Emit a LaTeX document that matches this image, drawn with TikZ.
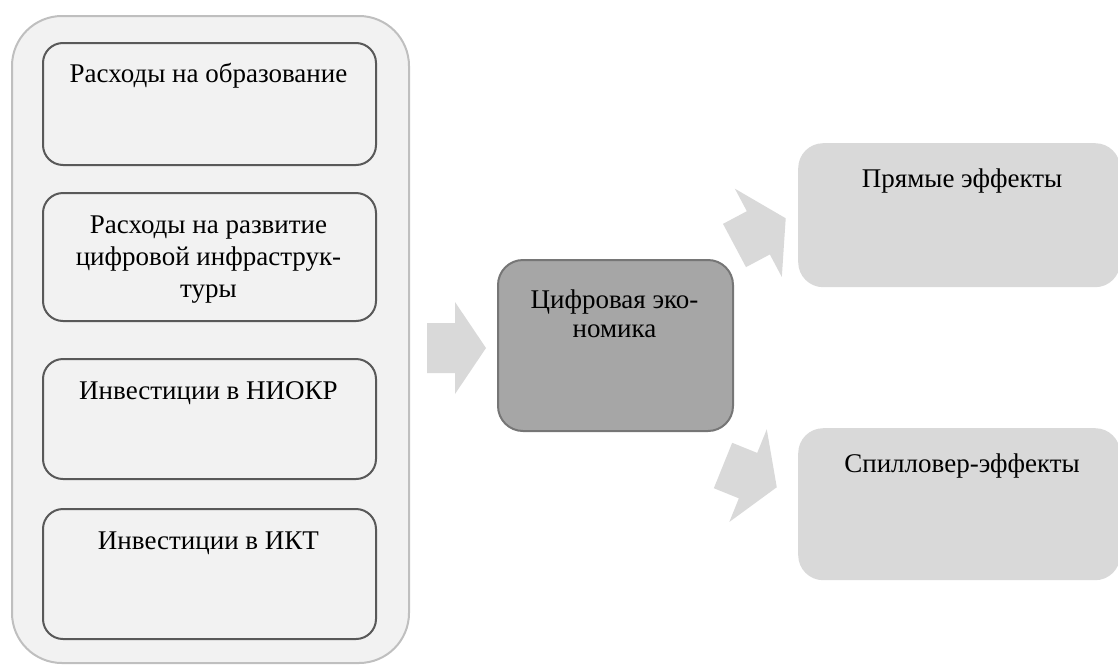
\documentclass[tikz,border=0pt]{standalone}
\usepackage{fontspec}
\setmainfont{Liberation Serif}
\usetikzlibrary{calc}
\definecolor{outerfill}{HTML}{F2F2F2}
\definecolor{outerline}{HTML}{BFBFBF}
\definecolor{innerline}{HTML}{595959}
\definecolor{centerfill}{HTML}{A6A6A6}
\definecolor{centerline}{HTML}{767676}
\definecolor{lightfill}{HTML}{D9D9D9}
\tikzset{
  outerbox/.style={draw=outerline, fill=outerfill, line width=2pt, rounded corners=50pt, inner sep=0pt},
  inbox/.style={draw=innerline, fill=outerfill, line width=2pt, rounded corners=20pt, inner sep=0pt},
  centerbox/.style={draw=centerline, fill=centerfill, line width=2pt, rounded corners=25pt, inner sep=0pt},
  effbox/.style={fill=lightfill, draw=none, rounded corners=25pt, inner sep=0pt},
  txt/.style={anchor=base, inner sep=0pt, align=center, font=\fontsize{27}{32}\selectfont},
  mtxt/.style={anchor=north, inner sep=0pt, align=center},
  blockarrow/.style={fill=lightfill, draw=none},
}
\begin{document}
\begin{tikzpicture}[x=1pt,y=-1pt]
\useasboundingbox (0,0) rectangle (1118,664);
% outer container
\node[outerbox, anchor=north west, minimum width=397pt, minimum height=647pt] (outer) at (11,15) {};
% inner boxes
\node[inbox, anchor=north west, minimum width=333pt, minimum height=122pt] (b1) at (42,42) {};
\node[inbox, anchor=north west, minimum width=333pt, minimum height=128pt] (b2) at (42,192) {};
\node[inbox, anchor=north west, minimum width=333pt, minimum height=120pt] (b3) at (42,358) {};
\node[inbox, anchor=north west, minimum width=333pt, minimum height=130pt] (b4) at (42,508) {};
\node[txt] (t1) at (208.5,82) {Расходы на образование};
\node[mtxt, font=\fontsize{27}{32}\selectfont] (t2) at (208.5,216) {Расходы на развитие\\цифровой инфраструк-\\туры};
\node[txt] (t3) at (208.5,399) {Инвестиции в НИОКР};
\node[txt] (t4) at (208.5,549) {Инвестиции в ИКТ};
% center box
\node[centerbox, anchor=north west, minimum width=235pt, minimum height=171pt] (c) at (497,259) {};
\node[mtxt, font=\fontsize{27}{29}\selectfont] (tc) at (614.5,290) {Цифровая эко-\\номика};
% effect boxes
\node[effbox, anchor=north west, minimum width=322pt, minimum height=144pt] (e1) at (798,143) {};
\node[effbox, anchor=north west, minimum width=322pt, minimum height=152pt] (e2) at (798,428) {};
\node[txt] (te1) at (962,187) {Прямые эффекты};
\node[txt] (te2) at (962,472) {Спилловер-эффекты};
% block arrows
\fill[blockarrow, shift={(427,348)}] (0,-25) -- (28,-25) -- (28,-46) -- (59,0) -- (28,46) -- (28,25) -- (0,25) -- cycle;
\fill[blockarrow, shift={(734.5,245.5)}, rotate=28] (0,-24.5) -- (27,-24.5) -- (27,-50) -- (58,0) -- (27,50) -- (27,24.5) -- (0,24.5) -- cycle;
\fill[blockarrow, shift={(723,465.5)}, rotate=-22] (0,-24.5) -- (27,-24.5) -- (27,-50) -- (58,0) -- (27,50) -- (27,24.5) -- (0,24.5) -- cycle;
\end{tikzpicture}
\end{document}
